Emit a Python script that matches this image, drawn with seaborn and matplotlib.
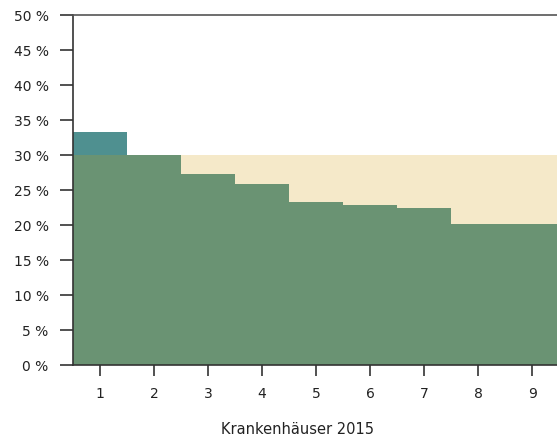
import matplotlib
matplotlib.use("Agg")
import matplotlib.pyplot as plt
import seaborn as sns
import pandas as pd
import numpy as np

categories = ["1", "2", "3", "4", "5", "6", "7", "8", "9"]
values = [33.3, 30.0, 27.3, 25.9, 23.3, 22.9, 22.4, 20.1, 20.1]
reference = 30.0
y_ticks = [0, 5, 10, 15, 20, 25, 30, 35, 40, 45, 50]
x_title = "Krankenhäuser 2015"

GREEN = "#6a9373"
TEAL = "#4f9090"
BEIGE = "#f5e9c9"

sns.set_theme(style="white")
plt.rcParams["font.family"] = ["DejaVu Sans"]

df = pd.DataFrame({"cat": categories, "value": values})
df["upper"] = np.maximum(df["value"], reference)
df["lower"] = np.minimum(df["value"], reference)
df["kind"] = np.where(df["value"] > reference, "above", "below")

fig = plt.figure(figsize=(5.57, 4.40), dpi=100)
ax = fig.add_axes([73 / 557, 1 - 365 / 440, 1 - 73 / 557, 350 / 440])

sns.barplot(data=df, x="cat", y="upper", hue="kind",
            palette={"above": TEAL, "below": BEIGE}, width=1.0,
            dodge=False, legend=False, edgecolor="none", linewidth=0,
            saturation=1, ax=ax, order=categories)
sns.barplot(data=df, x="cat", y="lower", color=GREEN, width=1.0,
            edgecolor="none", linewidth=0, saturation=1, ax=ax, order=categories)

ax.set_xlim(-0.5, 8.46)
ax.set_ylim(0, 50)
ax.set_yticks(y_ticks)
ax.set_yticklabels([f"{t} %" for t in y_ticks])
ax.set_xlabel(x_title, fontsize=10.5, color="#222222")
ax.xaxis.set_label_coords(0.463, -0.163)
ax.set_ylabel("")

for s in ["left", "bottom", "top"]:
    ax.spines[s].set_visible(True)
    ax.spines[s].set_color("#333333")
    ax.spines[s].set_linewidth(1.2)
ax.spines["top"].set_color("#555555")
ax.spines["right"].set_visible(False)

ax.tick_params(axis="y", which="major", length=9.5, width=1.2, color="#333333",
               labelsize=10, labelcolor="#222222", pad=8, left=True)
ax.tick_params(axis="x", which="major", length=8, width=1.2, color="#333333",
               labelsize=10, labelcolor="#222222", pad=8, bottom=True)

fig.savefig("out.png", dpi=100)
